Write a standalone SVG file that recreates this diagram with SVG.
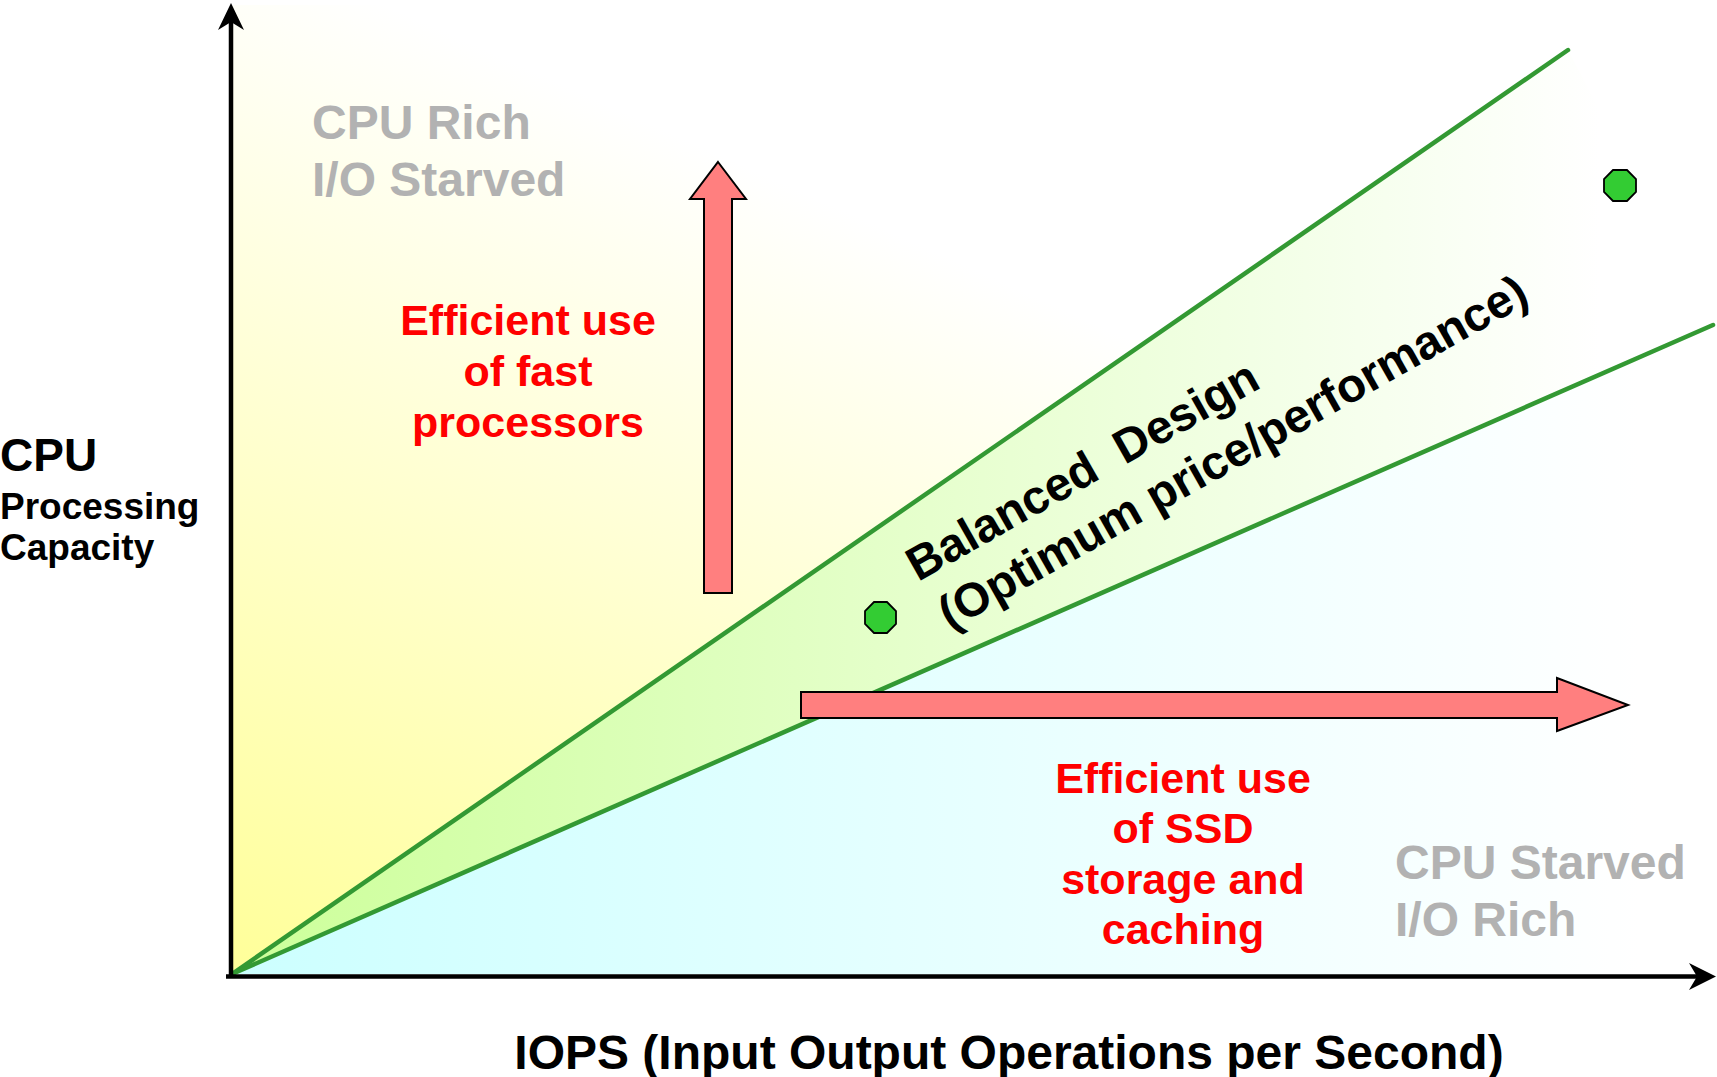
<svg xmlns="http://www.w3.org/2000/svg" width="1717" height="1077" viewBox="0 0 1717 1077">
  <style>
    .bold { font-family: "Liberation Sans", Arial, sans-serif; font-weight: bold; }
    .gray { fill: #B2B2B2; font-size: 48px; }
    .red { fill: #FF0000; font-size: 43px; text-anchor: middle; }
    .blk { fill: #000000; }
    .bigarrow { fill: #FF7F7F; stroke: #000; stroke-width: 2; stroke-linejoin: miter; }
    .dot { fill: #33CC33; stroke: #000; stroke-width: 1.8; }
    .gline { stroke: #339933; stroke-width: 4.5; fill: none; stroke-linecap: round; }
    .axis { stroke: #000; stroke-width: 4.5; fill: none; }
  </style>
  <defs>
    <linearGradient id="gYellow" gradientUnits="userSpaceOnUse" x1="232" y1="974" x2="620" y2="110">
      <stop offset="0" stop-color="#FFFF99"/>
      <stop offset="1" stop-color="#FFFFFF"/>
    </linearGradient>
    <linearGradient id="gGreen" gradientUnits="userSpaceOnUse" x1="232" y1="0" x2="1600" y2="0">
      <stop offset="0" stop-color="#CCFF99"/>
      <stop offset="1" stop-color="#FFFFFF"/>
    </linearGradient>
    <linearGradient id="gCyan" gradientUnits="userSpaceOnUse" x1="232" y1="0" x2="1640" y2="0">
      <stop offset="0" stop-color="#CCFFFF"/>
      <stop offset="1" stop-color="#FFFFFF"/>
    </linearGradient>
  </defs>

  <rect x="0" y="0" width="1717" height="1077" fill="#FFFFFF"/>

  <g id="regions">
    <polygon id="region-cpu-rich" points="232,974 232,5 1568,5 1568,50" fill="url(#gYellow)"/>
    <polygon id="region-balanced" points="232,974 1568,50 1713,325" fill="url(#gGreen)"/>
    <polygon id="region-io-rich" points="232,974 1713,325 1713,975" fill="url(#gCyan)"/>
  </g>

  <g id="connectors">
    <line class="gline" x1="232" y1="974" x2="1568" y2="50"/>
    <line class="gline" x1="232" y1="974" x2="1713" y2="325"/>
    <line class="axis" x1="231" y1="977" x2="231" y2="18"/>
    <path d="M231,3 L244,30 L231,22 L218,30 Z" fill="#000"/>
    <line class="axis" x1="226" y1="976.5" x2="1700" y2="976.5"/>
    <path d="M1716,976.5 L1689,963 L1697,976.5 L1689,990 Z" fill="#000"/>
  </g>

  <g id="arrow-up">
    <polygon class="bigarrow" points="718,162 746,199 732,199 732,593 704,593 704,199 690,199"/>
  </g>
  <g id="arrow-right">
    <polygon class="bigarrow" points="801,692 1557,692 1557,678 1628,705 1557,731 1557,718 801,718"/>
  </g>

  <g id="point-balanced">
    <polygon class="dot" points="874,602 887,602 896,611 896,624 887,633 874,633 865,624 865,611"/>
  </g>
  <g id="point-top">
    <polygon class="dot" points="1613,170 1627,170 1636,179 1636,192 1627,201 1613,201 1604,192 1604,179"/>
  </g>

  <g id="label-cpu-rich">
    <text class="bold gray" x="312" y="139">CPU Rich</text>
    <text class="bold gray" x="312" y="196">I/O Starved</text>
  </g>
  <g id="label-cpu-starved">
    <text class="bold gray" x="1395" y="879">CPU Starved</text>
    <text class="bold gray" x="1395" y="936">I/O Rich</text>
  </g>
  <g id="label-fast-processors">
    <text class="bold red" x="528" y="335">Efficient use</text>
    <text class="bold red" x="528" y="386">of fast</text>
    <text class="bold red" x="528" y="437">processors</text>
  </g>
  <g id="label-ssd">
    <text class="bold red" x="1183" y="793">Efficient use</text>
    <text class="bold red" x="1183" y="843">of SSD</text>
    <text class="bold red" x="1183" y="894">storage and</text>
    <text class="bold red" x="1183" y="944">caching</text>
  </g>
  <g id="label-balanced">
    <text class="bold blk" font-size="47.5" transform="translate(918,582) rotate(-29.5)" xml:space="preserve"><tspan x="0" y="0">Balanced  Design</tspan><tspan x="4" y="58">(Optimum price/performance)</tspan></text>
  </g>
  <g id="label-y-axis">
    <text class="bold blk" x="0" y="471" font-size="46">CPU</text>
    <text class="bold blk" x="0" y="519" font-size="37">Processing</text>
    <text class="bold blk" x="0" y="560" font-size="37">Capacity</text>
  </g>
  <g id="label-x-axis">
    <text class="bold blk" x="1009" y="1069" font-size="48" text-anchor="middle">IOPS (Input Output Operations per Second)</text>
  </g>
</svg>
